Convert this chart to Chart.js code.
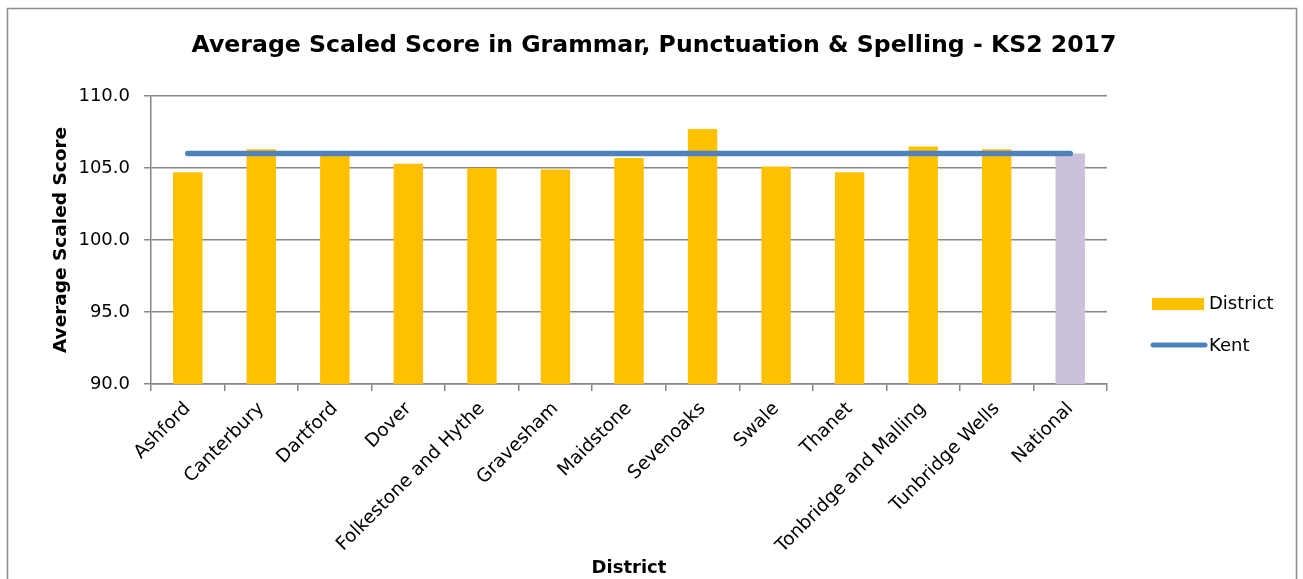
<!DOCTYPE html>
<html>
<head>
<meta charset="utf-8">
<script src="https://cdn.jsdelivr.net/npm/chart.js@4/dist/chart.umd.min.js"></script>
<style>
  html, body { margin: 0; padding: 0; background: #ffffff; }
  #wrap { width: 1303px; height: 579px; position: relative; }
</style>
</head>
<body>
<div id="wrap"><canvas id="c" width="1303" height="579"></canvas></div>
<script>
const categories = ['Ashford', 'Canterbury', 'Dartford', 'Dover', 'Folkestone and Hythe', 'Gravesham', 'Maidstone', 'Sevenoaks', 'Swale', 'Thanet', 'Tonbridge and Malling', 'Tunbridge Wells', 'National'];
const districtScores = [104.7, 106.3, 106.0, 105.3, 105.0, 104.9, 105.7, 107.7, 105.1, 104.7, 106.5, 106.3, 106.0];
const kentScores = [106.0, 106.0, 106.0, 106.0, 106.0, 106.0, 106.0, 106.0, 106.0, 106.0, 106.0, 106.0, 106.0];
const yTicks = [90, 95, 100, 105, 110];
const titleText = 'Average Scaled Score in Grammar, Punctuation & Spelling - KS2 2017';
const xTitle = 'District';
const yTitle = 'Average Scaled Score';

const barColors = categories.map(c => c === 'National' ? '#ccc1da' : '#ffc000');
const FONT = "'DejaVu Sans', Verdana, sans-serif";

const framePlugin = {
  id: 'frame',
  beforeDraw(chart) {
    const ctx = chart.ctx;
    ctx.save();
    ctx.fillStyle = '#ffffff';
    ctx.fillRect(0, 0, chart.width, chart.height);
    ctx.strokeStyle = '#8c8c8c';
    ctx.lineWidth = 1.5;
    ctx.strokeRect(7.5, 8.5, 1289, 620);
    ctx.restore();
  }
};

const titlePlugin = {
  id: 'customTitle',
  afterDraw(chart) {
    const ctx = chart.ctx;
    ctx.save();
    ctx.font = 'bold 23.6px ' + FONT;
    ctx.fillStyle = '#000000';
    ctx.textAlign = 'center';
    ctx.textBaseline = 'middle';
    ctx.fillText(titleText, 654, 46);
    ctx.restore();
  }
};

const legendPlugin = {
  id: 'customLegend',
  afterDraw(chart) {
    const ctx = chart.ctx;
    const ds = chart.data.datasets;
    ctx.save();
    ctx.font = '18px ' + FONT;
    ctx.textBaseline = 'middle';
    ctx.fillStyle = '#ffc000';
    ctx.fillRect(1152, 298, 52, 12);
    ctx.fillStyle = '#000000';
    ctx.fillText(ds[0].label, 1209, 304);
    ctx.strokeStyle = ds[1].borderColor;
    ctx.lineWidth = 5;
    ctx.lineCap = 'round';
    ctx.beginPath();
    ctx.moveTo(1153, 345);
    ctx.lineTo(1205, 345);
    ctx.stroke();
    ctx.fillText(ds[1].label, 1209, 346);
    ctx.restore();
  }
};

new Chart(document.getElementById('c'), {
  data: {
    labels: categories,
    datasets: [
      {
        type: 'bar',
        label: 'District',
        data: districtScores,
        backgroundColor: barColors,
        barPercentage: 0.4,
        categoryPercentage: 1.0,
        order: 2
      },
      {
        type: 'line',
        label: 'Kent',
        data: kentScores,
        borderColor: '#4f81bd',
        backgroundColor: '#4f81bd',
        borderWidth: 5.5,
        borderCapStyle: 'round',
        pointRadius: 0,
        pointHoverRadius: 0,
        fill: false,
        order: 1
      }
    ]
  },
  options: {
    responsive: false,
    animation: false,
    layout: { padding: { left: 0, right: 196, top: 96, bottom: 0 } },
    plugins: {
      legend: { display: false },
      tooltip: { enabled: false },
      title: { display: false }
    },
    scales: {
      x: {
        offset: true,
        grid: {
          offset: true,
          drawOnChartArea: false,
          drawTicks: true,
          tickLength: 7,
          color: '#868686',
          lineWidth: 1.5
        },
        border: { display: true, color: '#868686', width: 1.5 },
        ticks: {
          color: '#000000',
          font: { family: FONT, size: 18.5 },
          minRotation: 45,
          maxRotation: 45,
          autoSkip: false,
          padding: 7
        },
        title: {
          display: true,
          text: xTitle,
          color: '#000000',
          font: { family: FONT, size: 18, weight: 'bold' },
          padding: { top: 0, bottom: 0 }
        },
        afterFit(scale) { scale.height = 195; }
      },
      y: {
        min: 90,
        max: 110,
        afterBuildTicks(scale) { scale.ticks = yTicks.map(v => ({ value: v })); },
        grid: {
          color: '#868686',
          lineWidth: 1.5,
          drawTicks: true,
          tickLength: 7
        },
        border: { display: true, color: '#868686', width: 1.5 },
        ticks: {
          color: '#000000',
          font: { family: FONT, size: 18 },
          padding: 14,
          callback: v => Number(v).toFixed(1)
        },
        title: {
          display: true,
          text: yTitle,
          color: '#000000',
          font: { family: FONT, size: 18.5, weight: 'bold' },
          padding: { top: 50, bottom: 0 }
        },
        afterFit(scale) { scale.width = 151; }
      }
    }
  },
  plugins: [framePlugin, titlePlugin, legendPlugin]
});
</script>
</body>
</html>
